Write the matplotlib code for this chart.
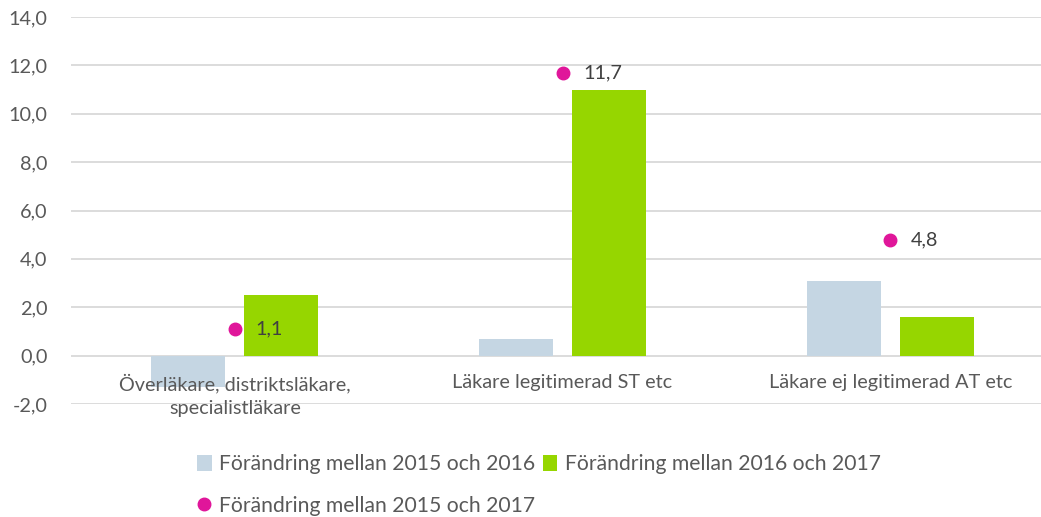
import matplotlib
matplotlib.use("Agg")
import matplotlib.pyplot as plt
from matplotlib.lines import Line2D
from matplotlib.patches import Patch

categories = ["Överläkare, distriktsläkare,\nspecialistläkare",
              "Läkare legitimerad ST etc",
              "Läkare ej legitimerad AT etc"]
change_2015_2016 = [-1.3, 0.7, 3.1]
change_2016_2017 = [2.5, 11.0, 1.6]
change_2015_2017 = [1.1, 11.7, 4.8]
series_names = ["Förändring mellan 2015 och 2016",
                "Förändring mellan 2016 och 2017",
                "Förändring mellan 2015 och 2017"]
y_ticks = [-2, 0, 2, 4, 6, 8, 10, 12, 14]

BLUE = "#C5D6E3"
GREEN = "#96D600"
PINK = "#E0169A"
TEXT = "#595959"
GRID = "#D9D9D9"
FS = 14.3

plt.rcParams["font.family"] = ["Lato", "DejaVu Sans"]

fig = plt.figure(figsize=(10.41, 5.17), dpi=100)
ax = fig.add_axes([71 / 1041, 1 - 404 / 517, 1 - 71 / 1041, (404 - 17) / 517])

x = list(range(len(categories)))
w = 0.226
off = 0.142
ax.bar([i - off for i in x], change_2015_2016, width=w, color=BLUE, zorder=2)
ax.bar([i + off for i in x], change_2016_2017, width=w, color=GREEN, zorder=2)
ax.plot(x, change_2015_2017, linestyle="none", marker="o", markersize=9,
        color=PINK, zorder=3)
for xi, v in zip(x, change_2015_2017):
    ax.annotate(f"{v:.1f}".replace(".", ","), (xi, v), xytext=(15, 0),
                textcoords="offset points", va="center", ha="left",
                fontsize=FS, color="#404040", zorder=4)

ax.set_xlim(-0.5, 2.46)
ax.set_ylim(-2, 14)
ax.set_yticks(y_ticks)
ax.set_yticklabels([f"{t:.1f}".replace(".", ",") for t in y_ticks],
                   fontsize=FS, color=TEXT)
ax.yaxis.grid(True, color=GRID, linewidth=1.3, zorder=0)
ax.set_axisbelow(True)
ax.tick_params(axis="y", length=0, pad=17)
ax.set_xticks([])
for s in ax.spines.values():
    s.set_visible(False)

for xi, lab in zip(x, categories):
    ax.annotate(lab, (xi, 0), xytext=(0, -13), textcoords="offset points",
                ha="center", va="top", fontsize=FS, color=TEXT,
                linespacing=1.45, zorder=4)

handles = [Patch(facecolor=BLUE, edgecolor="none"),
           Line2D([], [], linestyle="none", marker="o", markersize=9, color=PINK),
           Patch(facecolor=GREEN, edgecolor="none")]
labels = [series_names[0], series_names[2], series_names[1]]
fig.legend(handles, labels, ncol=2, loc="upper left",
           bbox_to_anchor=(197 / 1041, 1 - 454 / 517), frameon=False,
           fontsize=15.2, labelcolor=TEXT, handlelength=0.7, handleheight=0.8,
           handletextpad=0.35, columnspacing=0.35, labelspacing=1.05,
           borderpad=0, borderaxespad=0)

fig.savefig("out.png", dpi=100)
